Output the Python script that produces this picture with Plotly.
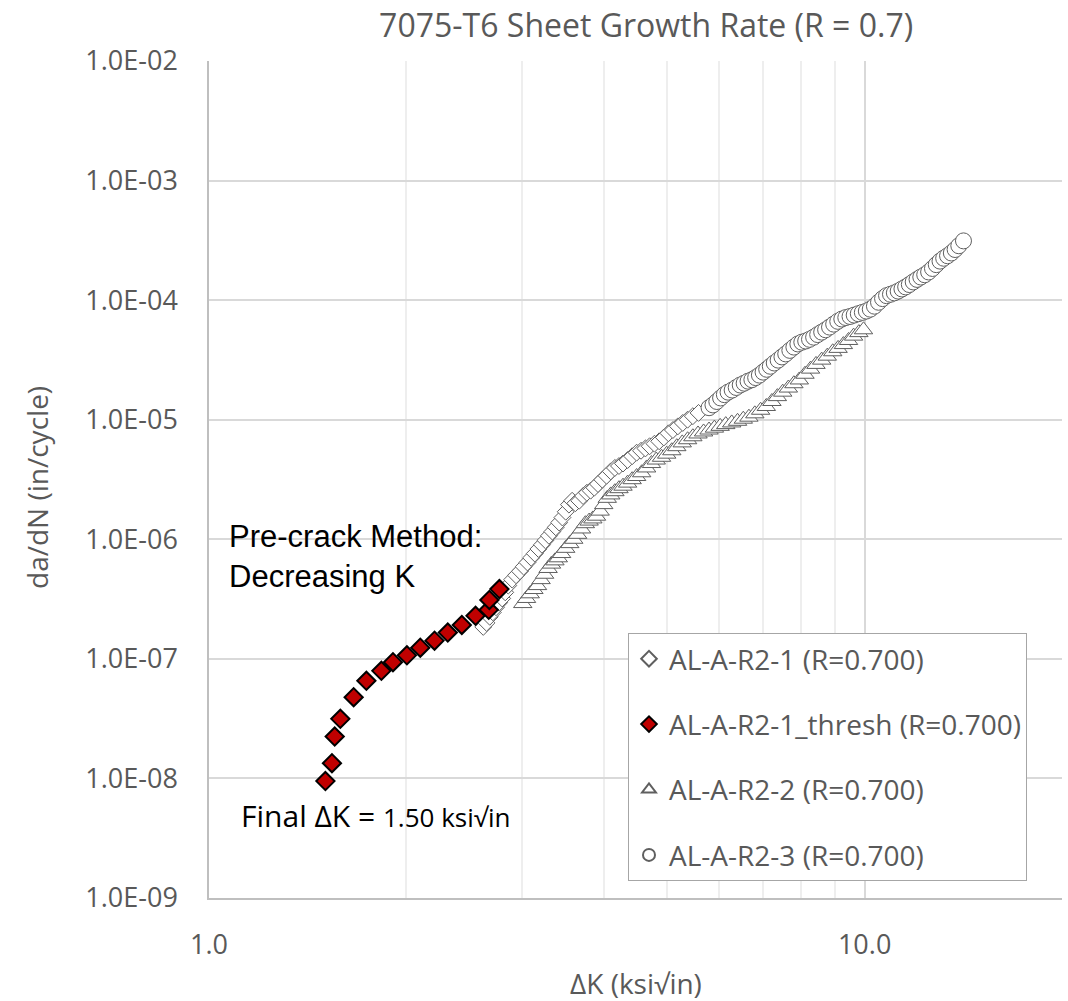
import plotly.graph_objects as go

# ---------------- data ----------------
r2_1_dk = [2.62, 2.65, 2.68, 2.71, 2.74, 2.77, 2.80, 2.83, 2.86, 2.90, 2.94, 2.98, 3.02, 3.06,
           3.10, 3.14, 3.18, 3.22, 3.26, 3.30, 3.34, 3.38, 3.42, 3.46, 3.50, 3.54, 3.58, 3.62,
           3.67, 3.72, 3.77, 3.82, 3.87, 3.92, 3.98, 4.04, 4.10, 4.16, 4.22, 4.28, 4.35, 4.42,
           4.49, 4.56, 4.63, 4.70, 4.78, 4.86, 4.94, 5.02, 5.10, 5.19, 5.28, 5.37, 5.47, 5.58]
r2_1_da = [1.85e-7, 2.0e-7, 2.25e-7, 2.45e-7, 2.7e-7, 2.95e-7, 3.2e-7, 3.6e-7, 4.1e-7, 4.6e-7,
           5.0e-7, 5.4e-7, 5.9e-7, 6.4e-7, 7.0e-7, 7.6e-7, 8.3e-7, 9.0e-7, 9.8e-7, 1.07e-6,
           1.16e-6, 1.26e-6, 1.38e-6, 1.52e-6, 1.70e-6, 1.95e-6, 2.1e-6, 2.0e-6, 2.1e-6, 2.3e-6,
           2.45e-6, 2.55e-6, 2.7e-6, 2.9e-6, 3.15e-6, 3.4e-6, 3.7e-6, 3.95e-6, 4.1e-6, 4.3e-6,
           4.6e-6, 4.95e-6, 5.3e-6, 5.5e-6, 5.75e-6, 6.0e-6, 6.3e-6, 6.6e-6, 7.1e-6, 7.7e-6,
           8.2e-6, 8.8e-6, 9.4e-6, 1.0e-5, 1.07e-5, 1.14e-5]

thresh_dk = [1.505, 1.54, 1.555, 1.586, 1.662, 1.738, 1.832, 1.908, 2.004, 2.100, 2.208,
             2.313, 2.430, 2.550, 2.671, 2.677, 2.773]
thresh_da = [9.5e-9, 1.34e-8, 2.24e-8, 3.15e-8, 4.78e-8, 6.55e-8, 7.94e-8, 9.38e-8, 1.07e-7,
             1.24e-7, 1.42e-7, 1.66e-7, 1.92e-7, 2.29e-7, 2.57e-7, 3.11e-7, 3.83e-7]

r2_2_dk = [3.01, 3.05, 3.09, 3.13, 3.17, 3.21, 3.25, 3.29, 3.33, 3.37, 3.41, 3.45, 3.50, 3.55,
           3.60, 3.65, 3.70, 3.75, 3.80, 3.85, 3.90, 3.95, 4.00, 4.05, 4.10, 4.16, 4.22, 4.28,
           4.35, 4.42, 4.49, 4.57, 4.65, 4.73, 4.81, 4.90, 4.99, 5.08, 5.17, 5.27, 5.37, 5.47,
           5.57, 5.68, 5.79, 5.90, 6.02, 6.14, 6.27, 6.40, 6.53, 6.66, 6.80, 6.94, 7.08, 7.22,
           7.36, 7.50, 7.65, 7.80, 7.95, 8.11, 8.27, 8.43, 8.60, 8.77, 8.94, 9.11, 9.28, 9.45,
           9.62, 9.80, 9.96]
r2_2_da = [2.9e-7, 3.2e-7, 3.5e-7, 3.8e-7, 4.1e-7, 4.6e-7, 5.1e-7, 5.7e-7, 6.2e-7, 6.6e-7,
           7.0e-7, 7.6e-7, 8.4e-7, 9.2e-7, 1.0e-6, 1.1e-6, 1.22e-6, 1.35e-6, 1.42e-6, 1.48e-6,
           1.56e-6, 1.72e-6, 1.95e-6, 2.2e-6, 2.35e-6, 2.5e-6, 2.65e-6, 2.78e-6, 2.95e-6,
           3.15e-6, 3.35e-6, 3.6e-6, 3.95e-6, 4.3e-6, 4.6e-6, 4.85e-6, 5.15e-6, 5.5e-6, 5.95e-6,
           6.4e-6, 6.8e-6, 7.2e-6, 7.6e-6, 7.9e-6, 8.2e-6, 8.5e-6, 8.8e-6, 9.1e-6, 9.4e-6,
           9.7e-6, 1.01e-5, 1.05e-5, 1.12e-5, 1.2e-5, 1.29e-5, 1.42e-5, 1.56e-5, 1.70e-5,
           1.84e-5, 2.0e-5, 2.15e-5, 2.4e-5, 2.65e-5, 2.9e-5, 3.15e-5, 3.4e-5, 3.7e-5, 3.95e-5,
           4.25e-5, 4.6e-5, 5.0e-5, 5.35e-5, 5.65e-5]

r2_3_dk = [5.79, 5.87, 5.95, 6.03, 6.11, 6.19, 6.28, 6.37, 6.46, 6.55, 6.64, 6.73, 6.82, 6.91,
           7.00, 7.09, 7.18, 7.28, 7.38, 7.48, 7.58, 7.69, 7.80, 7.91, 8.02, 8.13, 8.24, 8.36,
           8.48, 8.60, 8.72, 8.84, 8.97, 9.10, 9.23, 9.36, 9.50, 9.64, 9.78, 9.92, 10.06, 10.20,
           10.35, 10.50, 10.65, 10.80, 10.95, 11.10, 11.25, 11.40, 11.55, 11.70, 11.86, 12.02,
           12.18, 12.35, 12.52, 12.69, 12.86, 13.03, 13.20, 13.38, 13.56, 13.74, 13.92, 14.15]
r2_3_da = [1.26e-5, 1.33e-5, 1.42e-5, 1.52e-5, 1.62e-5, 1.70e-5, 1.77e-5, 1.86e-5, 1.95e-5,
           2.02e-5, 2.1e-5, 2.16e-5, 2.25e-5, 2.36e-5, 2.5e-5, 2.64e-5, 2.8e-5, 2.98e-5, 3.15e-5,
           3.35e-5, 3.55e-5, 3.8e-5, 4.05e-5, 4.3e-5, 4.45e-5, 4.55e-5, 4.7e-5, 4.9e-5, 5.15e-5,
           5.4e-5, 5.65e-5, 5.95e-5, 6.3e-5, 6.65e-5, 6.95e-5, 7.15e-5, 7.3e-5, 7.5e-5, 7.7e-5,
           7.9e-5, 8.1e-5, 8.4e-5, 8.9e-5, 9.6e-5, 1.03e-4, 1.09e-4, 1.12e-4, 1.15e-4, 1.19e-4,
           1.24e-4, 1.29e-4, 1.35e-4, 1.42e-4, 1.49e-4, 1.56e-4, 1.63e-4, 1.72e-4, 1.84e-4,
           1.98e-4, 2.12e-4, 2.24e-4, 2.35e-4, 2.48e-4, 2.65e-4, 2.85e-4, 3.13e-4]

x_tick_vals = [1, 10]
x_tick_text = ["1.0", "10.0"]
x_minor_vals = [2, 3, 4, 5, 6, 7, 8, 9, 20]
y_tick_vals = [1e-9, 1e-8, 1e-7, 1e-6, 1e-5, 1e-4, 1e-3, 1e-2]
y_tick_text = ["1.0E-09", "1.0E-08", "1.0E-07", "1.0E-06", "1.0E-05", "1.0E-04", "1.0E-03", "1.0E-02"]

names = ["AL-A-R2-1 (R=0.700)", "AL-A-R2-1_thresh (R=0.700)", "AL-A-R2-2 (R=0.700)", "AL-A-R2-3 (R=0.700)"]

# ---------------- figure ----------------
GRAY_TXT = "#595959"
OUTL = "#5f5f5f"
FONT = "Open Sans"

fig = go.Figure()
fig.add_trace(go.Scatter(x=r2_1_dk, y=r2_1_da, mode="markers", name=names[0], legendgroup="a",
                         marker=dict(symbol="diamond", size=13, color="white",
                                     line=dict(color=OUTL, width=1))))
fig.add_trace(go.Scatter(x=thresh_dk, y=thresh_da, mode="markers", name=names[1], legendgroup="b",
                         marker=dict(symbol="diamond", size=14, color="#c00000",
                                     line=dict(color="black", width=2))))
fig.add_trace(go.Scatter(x=r2_2_dk, y=r2_2_da, mode="markers", name=names[2], legendgroup="c",
                         marker=dict(symbol="triangle-up", size=16, color="white",
                                     line=dict(color=OUTL, width=1))))
fig.add_trace(go.Scatter(x=r2_3_dk, y=r2_3_da, mode="markers", name=names[3], legendgroup="d",
                         marker=dict(symbol="circle", size=16, color="white",
                                     line=dict(color=OUTL, width=1))))

fig.update_layout(
    width=1068, height=1001,
    margin=dict(l=209, r=6, t=61, b=103),
    paper_bgcolor="white", plot_bgcolor="white",
    font=dict(family=FONT, color=GRAY_TXT, size=26),
    title=dict(text="7075-T6 Sheet Growth Rate (R = 0.7)", x=0.605, xref="container", xanchor="center",
               y=1 - 26 / 1001, yref="container", yanchor="middle",
               font=dict(family=FONT, size=32, color=GRAY_TXT)),
    showlegend=True,
    legend=dict(x=(628 - 209) / 853, y=(898 - 633) / 837, xanchor="left", yanchor="top",
                bgcolor="white", bordercolor="#a6a6a6", borderwidth=1,
                font=dict(family=FONT, size=28, color=GRAY_TXT),
                tracegroupgap=26, traceorder="grouped", itemsizing="constant"),
)

fig.update_xaxes(type="log", range=[0, 1.30103], tickmode="array", tickvals=x_tick_vals,
                 ticktext=x_tick_text, showgrid=True, gridcolor="#d9d9d9", gridwidth=1.5,
                 minor=dict(tickvals=x_minor_vals, showgrid=True, gridcolor="#eeeeee", gridwidth=1.5, ticks=""),
                 showline=True, linecolor="#bfbfbf", linewidth=1.5, mirror=False,
                 ticks="", ticklabelstandoff=22, tickfont=dict(size=27, color=GRAY_TXT),
                 zeroline=False)
fig.update_yaxes(type="log", range=[-9, -2], tickmode="array", tickvals=y_tick_vals,
                 ticktext=y_tick_text, showgrid=True, gridcolor="#d9d9d9", gridwidth=1.5,
                 showline=True, linecolor="#bfbfbf", linewidth=1.5, mirror=False,
                 ticks="", ticklabelstandoff=24, tickfont=dict(size=27, color=GRAY_TXT),
                 zeroline=False)

# axis titles
fig.add_annotation(text="da/dN (in/cycle)", xref="paper", yref="paper",
                   x=(37 - 209) / 853, y=(898 - 488) / 837, xanchor="center", yanchor="middle",
                   textangle=-90, showarrow=False, font=dict(family=FONT, size=28, color=GRAY_TXT))
fig.add_annotation(text="ΔK (ksi√in)", xref="paper", yref="paper",
                   x=(636 - 209) / 853, y=(898 - 983) / 837, xanchor="center", yanchor="middle",
                   showarrow=False, font=dict(family=FONT, size=28, color=GRAY_TXT))

# in-plot notes
fig.add_annotation(text="Pre-crack Method:<br>Decreasing K", xref="paper", yref="paper",
                   x=(227 - 209) / 853, y=(898 - 517) / 837, xanchor="left", yanchor="top",
                   align="left", showarrow=False,
                   font=dict(family="Liberation Sans", size=31, color="black"))
fig.add_annotation(text="Final ΔK = <span style='font-size:26px'>1.50 ksi√in</span>",
                   xref="paper", yref="paper",
                   x=(239 - 209) / 853, y=(898 - 815) / 837, xanchor="left", yanchor="middle",
                   align="left", showarrow=False,
                   font=dict(family=FONT, size=30, color="black"))

fig.write_html("out.html")
